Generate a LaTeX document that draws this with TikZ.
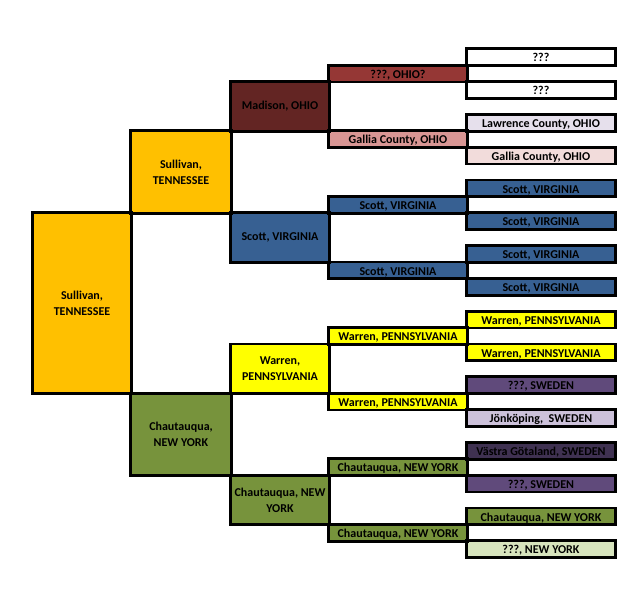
\documentclass[tikz,border=0pt]{standalone}
\usepackage{fontspec}
\setmainfont{Carlito}
\definecolor{sullivan}{HTML}{FFC000}
\definecolor{chautauqua}{HTML}{77933C}
\definecolor{madison}{HTML}{632523}
\definecolor{scott}{HTML}{376092}
\definecolor{warren}{HTML}{FFFF00}
\definecolor{ohio}{HTML}{953735}
\definecolor{gallia}{HTML}{D99694}
\definecolor{gallialight}{HTML}{F2DCDB}
\definecolor{lawrence}{HTML}{E6E0EC}
\definecolor{sweden}{HTML}{604A7B}
\definecolor{swedendark}{HTML}{3F3151}
\definecolor{swedenlight}{HTML}{CCC1DA}
\definecolor{newyorklight}{HTML}{D7E4BD}
\tikzset{
  cell/.style={inner sep=0pt, align=center, font=\bfseries\fontsize{12}{16}\selectfont},
  gen1/.style={cell, minimum width=98pt, minimum height=180.4pt},
  gen2/.style={cell, minimum width=100pt, minimum height=82pt},
  gen3/.style={cell, minimum width=98pt, minimum height=49.2pt},
  gen4/.style={cell, minimum width=138pt, minimum height=16.4pt, text height=11pt, text depth=1.5pt},
  gen5/.style={cell, minimum width=148pt, minimum height=16.4pt, text height=11pt, text depth=1.5pt},
  border/.style={line width=2.8pt}
}
\begin{document}
\begin{tikzpicture}[x=1pt, y=-1pt]
	\useasboundingbox (0,0) rectangle (632,602);
	% first column
	\node[gen1, fill=sullivan] (p1) at (82,303.2) {Sullivan,\\TENNESSEE};
	% second column
	\node[gen2, fill=sullivan]   (p2) at (181,172)   {Sullivan,\\TENNESSEE};
	\node[gen2, fill=chautauqua] (p3) at (181,434.4) {Chautauqua,\\NEW YORK};
	% third column
	\node[gen3, fill=madison]    (p4) at (280,106.4) {Madison, OHIO};
	\node[gen3, fill=scott]      (p5) at (280,237.6) {Scott, VIRGINIA};
	\node[gen3, fill=warren]     (p6) at (280,368.8) {Warren,\\PENNSYLVANIA};
	\node[gen3, fill=chautauqua] (p7) at (280,500)   {Chautauqua, NEW\\YORK};
	% fourth column
	\node[gen4, fill=ohio]       (p8)  at (398,73.6)  {???, OHIO?};
	\node[gen4, fill=gallia]     (p9)  at (398,139.2) {Gallia County, OHIO};
	\node[gen4, fill=scott]      (p10) at (398,204.8) {Scott, VIRGINIA};
	\node[gen4, fill=scott]      (p11) at (398,270.4) {Scott, VIRGINIA};
	\node[gen4, fill=warren]     (p12) at (398,336)   {Warren, PENNSYLVANIA};
	\node[gen4, fill=warren]     (p13) at (398,401.6) {Warren, PENNSYLVANIA};
	\node[gen4, fill=chautauqua] (p14) at (398,467.2) {Chautauqua, NEW YORK};
	\node[gen4, fill=chautauqua] (p15) at (398,532.8) {Chautauqua, NEW YORK};
	% fifth column
	\node[gen5, fill=white]        (p16) at (541,57.2)  {???};
	\node[gen5, fill=white]        (p17) at (541,90)    {???};
	\node[gen5, fill=lawrence]     (p18) at (541,122.8) {Lawrence County, OHIO};
	\node[gen5, fill=gallialight]  (p19) at (541,155.6) {Gallia County, OHIO};
	\node[gen5, fill=scott]        (p20) at (541,188.4) {Scott, VIRGINIA};
	\node[gen5, fill=scott]        (p21) at (541,221.2) {Scott, VIRGINIA};
	\node[gen5, fill=scott]        (p22) at (541,254)   {Scott, VIRGINIA};
	\node[gen5, fill=scott]        (p23) at (541,286.8) {Scott, VIRGINIA};
	\node[gen5, fill=warren]       (p24) at (541,319.6) {Warren, PENNSYLVANIA};
	\node[gen5, fill=warren]       (p25) at (541,352.4) {Warren, PENNSYLVANIA};
	\node[gen5, fill=sweden]       (p26) at (541,385.2) {???, SWEDEN};
	\node[gen5, fill=swedenlight]  (p27) at (541,418)   {Jönköping,~ SWEDEN};
	\node[gen5, fill=swedendark]   (p28) at (541,450.8) {Västra Götaland, SWEDEN};
	\node[gen5, fill=sweden]       (p29) at (541,483.6) {???, SWEDEN};
	\node[gen5, fill=chautauqua]   (p30) at (541,516.4) {Chautauqua, NEW YORK};
	\node[gen5, fill=newyorklight] (p31) at (541,549.2) {???, NEW YORK};
	% borders on top of all fills
	\foreach \i in {1,...,31}
		\draw[border] (p\i.north west) rectangle (p\i.south east);
\end{tikzpicture}
\end{document}
